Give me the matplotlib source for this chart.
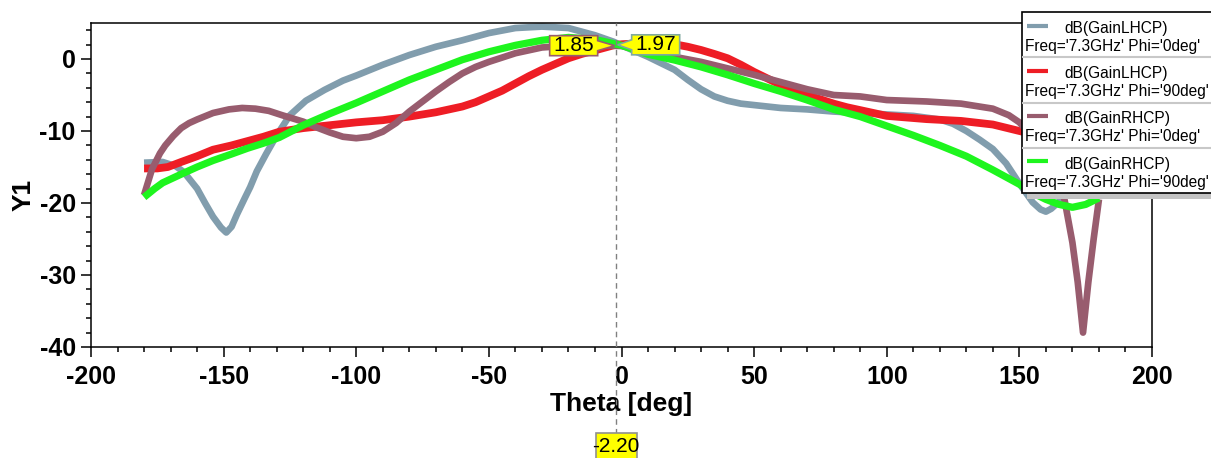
import matplotlib
matplotlib.use("Agg")
import matplotlib.pyplot as plt
from matplotlib.patches import Rectangle, Polygon
from matplotlib.lines import Line2D
from matplotlib.ticker import MultipleLocator
from matplotlib.transforms import IdentityTransform

plt.rcParams['font.family'] = ['Liberation Sans', 'DejaVu Sans']
plt.rcParams['axes.unicode_minus'] = False

# ---------------- data ----------------
gray_theta = [-180, -173, -168, -165, -160, -157, -154, -151, -149, -147, -145, -142, -140, -137.5, -134,
              -130, -125, -119, -112, -105, -100, -90, -80, -70, -60, -50, -40, -30, -20, -10, -3, 0,
              5, 10, 15, 20, 25, 30, 35, 40, 45, 50, 60, 70, 80, 90, 100, 110, 120, 125, 130, 135,
              140, 145, 150, 155, 158, 160, 162, 165, 170, 175, 180]
gray_db = [-14.4, -14.3, -14.9, -15.7, -18.0, -20.0, -21.9, -23.4, -24.1, -23.3, -21.6, -19.3, -17.8, -15.6, -13.2,
           -10.6, -7.8, -5.8, -4.3, -3.0, -2.3, -0.8, 0.55, 1.7, 2.6, 3.6, 4.3, 4.5, 4.3, 3.3, 2.4, 1.9,
           1.1, 0.3, -0.6, -1.5, -2.9, -4.2, -5.2, -5.8, -6.2, -6.4, -6.8, -7.0, -7.3, -7.5, -7.7, -7.9, -8.4, -9.0, -10.0, -11.2,
           -12.5, -14.5, -17.3, -19.9, -20.9, -21.2, -20.8, -19.8, -17.5, -16.0, -15.0]

red_theta = [-180, -175, -171, -166, -160, -154, -147, -141, -135, -129, -120, -110, -100, -90, -80, -70,
             -60, -55, -50, -45, -40, -35, -30, -25, -20, -15, -10, -3, 0, 5, 10, 15, 20, 25, 30, 35, 40,
             45, 50, 55, 60, 65, 70, 75, 80, 85, 90, 100, 115, 128, 140, 150, 160, 170, 180]
red_db = [-15.2, -15.2, -15.0, -14.3, -13.5, -12.6, -12.0, -11.4, -10.8, -10.1, -9.6, -9.2, -8.8, -8.5, -8.0, -7.4,
          -6.6, -6.0, -5.2, -4.4, -3.4, -2.4, -1.5, -0.7, 0.1, 0.7, 1.2, 1.9, 2.05, 2.15, 2.25, 2.2, 2.05, 1.7, 1.25, 0.7, 0.1,
          -0.8, -1.8, -2.7, -3.6, -4.4, -5.0, -5.6, -6.2, -6.7, -7.1, -7.9, -8.35, -8.6, -9.1, -10.0, -10.8, -11.5, -12.0]

purple_theta = [-180, -177, -174, -172, -169, -166, -163, -160, -154, -148, -143, -138, -133, -128, -120,
                -115, -110, -105, -100, -95, -90, -85, -80, -75, -70, -65, -60, -55, -50, -40, -30, -20,
                -10, 0, 10, 20, 30, 40, 50, 60, 70, 80, 90, 100, 115, 128, 140, 146, 150, 155, 160,
                164, 167, 170, 172, 174, 176, 178, 180]
purple_db = [-18.9, -15.3, -13.1, -12.0, -10.7, -9.6, -8.9, -8.4, -7.5, -7.0, -6.8, -6.9, -7.2, -7.8, -8.7,
             -9.5, -10.2, -10.8, -11.0, -10.8, -10.1, -8.9, -7.3, -5.9, -4.5, -3.2, -2.0, -1.1, -0.4, 0.8, 1.6, 1.85,
             1.95, 1.8, 1.0, 0.3, -0.4, -1.3, -2.2, -3.2, -4.2, -5.0, -5.2, -5.7, -5.9, -6.2, -6.9, -7.8, -8.8, -10.8, -13.5,
             -16.5, -19.5, -25.5, -31.0, -38.0, -31.0, -25.0, -19.5]

green_theta = [-180, -176, -173, -166, -160, -154, -147, -141, -135, -129, -120, -110, -100, -90, -80, -70,
               -60, -50, -40, -30, -20, -10, 0, 10, 20, 30, 40, 50, 60, 70, 80, 90, 100, 110, 120,
               130, 140, 150, 155, 160, 165, 170, 175, 180]
green_db = [-19.2, -18.0, -17.2, -16.0, -15.0, -14.1, -13.2, -12.4, -11.7, -10.9, -9.2, -7.6, -6.1, -4.5, -2.9, -1.5,
            -0.1, 1.0, 1.9, 2.6, 3.0, 2.7, 1.9, 0.65, -0.15, -1.1, -2.2, -3.4, -4.5, -5.7, -7.0, -8.0, -9.3, -10.6, -12.0,
            -13.5, -15.4, -17.4, -18.6, -19.5, -20.2, -20.6, -20.2, -19.3]

trace_names = ["dB(GainLHCP)", "dB(GainLHCP)", "dB(GainRHCP)", "dB(GainRHCP)"]
trace_conds = ["Freq='7.3GHz' Phi='0deg'", "Freq='7.3GHz' Phi='90deg'",
               "Freq='7.3GHz' Phi='0deg'", "Freq='7.3GHz' Phi='90deg'"]

marker_theta = -2.2
marker_values = [1.85, 1.97]
marker_labels = ["1.85", "1.97"]
marker_x_label = "-2.20"

x_label = "Theta [deg]"
y_label = "Y1"

# ---------------- style ----------------
C_GRAY = "#819DAD"
C_RED = "#EE1D25"
C_PURPLE = "#985C6E"
C_GREEN = "#1EF51E"
colors = [C_GRAY, C_RED, C_PURPLE, C_GREEN]

W, H = 1211, 458
fig = plt.figure(figsize=(W / 100, H / 100), dpi=100)
fig.patch.set_facecolor("white")
AX_L, AX_R, AX_T, AX_B = 91, 1152, 23, 347
ax = fig.add_axes([AX_L / W, 1 - AX_B / H, (AX_R - AX_L) / W, (AX_B - AX_T) / H])

kw = dict(solid_capstyle='butt', solid_joinstyle='round')
ax.plot(gray_theta, gray_db, color=C_GRAY, lw=4.8, zorder=2, **kw)
ax.plot(red_theta, red_db, color=C_RED, lw=5.6, zorder=3, **kw)
ax.plot(purple_theta, purple_db, color=C_PURPLE, lw=4.8, zorder=4, **kw)
ax.plot(green_theta, green_db, color=C_GREEN, lw=5.2, zorder=5, **kw)

ax.set_xlim(-200, 200)
ax.set_ylim(-40, 5)
ax.xaxis.set_major_locator(MultipleLocator(50))
ax.xaxis.set_minor_locator(MultipleLocator(10))
ax.yaxis.set_major_locator(MultipleLocator(10))
ax.yaxis.set_minor_locator(MultipleLocator(2))
ax.tick_params(which='major', direction='out', length=7, width=1.1, labelsize=18, pad=4)
ax.tick_params(which='minor', direction='out', length=3.5, width=1.1)
ax.tick_params(axis='x', which='major', pad=6)
for lab in ax.get_xticklabels() + ax.get_yticklabels():
    lab.set_fontweight('bold')
for sp in ax.spines.values():
    sp.set_linewidth(1.1)

ax.set_xlabel(x_label, fontsize=19, fontweight='bold')
ax.set_ylabel(y_label, fontsize=19, fontweight='bold')
ax.xaxis.set_label_coords(0.5, -0.14)
ax.yaxis.set_label_coords(-0.052, 0.47)

# dashed marker line (extends below axes to the x-marker label)
ax.axvline(marker_theta, ymin=-0.27, ymax=1, color="#808080", lw=1.0,
           ls=(0, (4, 3)), clip_on=False, zorder=6)

# ---------------- markers ----------------
ident = IdentityTransform()
fig.canvas.draw()


def add_marker(value, label, side, edge):
    mx, my = ax.transData.transform((marker_theta, value))
    if side == 'left':
        x0, x1 = mx - 66, mx - 18
        pts = [(x0, my + 10), (x1, my + 10), (x1, my + 5), (mx - 1, my), (x1, my - 5),
               (x1, my - 10), (x0, my - 10)]
    else:
        x0, x1 = mx + 16, mx + 64
        pts = [(x0, my + 10), (x1, my + 10), (x1, my - 10), (x0, my - 10), (x0, my - 5),
               (mx + 2, my), (x0, my + 5)]
    poly = Polygon(pts, closed=True, facecolor="#FFFF00", edgecolor=edge, lw=1.2,
                   transform=ident, zorder=10)
    fig.add_artist(poly)
    fig.text((x0 + x1) / 2, my, label, transform=ident, ha='center', va='center',
             fontsize=15, color='black', zorder=11)


add_marker(marker_values[0], marker_labels[0], 'left', C_PURPLE)
add_marker(marker_values[1], marker_labels[1], 'right', "#7FA8A0")

mx, _ = ax.transData.transform((marker_theta, 0))
fig.add_artist(Rectangle((mx - 20, H - 470), 41, 37, facecolor="#FFFF00", edgecolor="#909090",
                         lw=1.2, transform=ident, zorder=10))
fig.text(mx + 0.5, H - 446, marker_x_label, transform=ident, ha='center', va='center',
         fontsize=15, color='black', zorder=11)

# ---------------- legend (drawn in pixel coords) ----------------
LX0, LX1, LY0, LY1 = 1022, 1211, 12, 193
fig.add_artist(Rectangle((LX0 + 5, H - LY1 - 6), LX1 - LX0, LY1 - LY0, facecolor="#C4C4C4",
                         edgecolor='none', transform=ident, zorder=12))
fig.add_artist(Rectangle((LX0, H - LY1), LX1 - LX0 + 5, LY1 - LY0, facecolor="white",
                         edgecolor='black', lw=1.2, transform=ident, zorder=13))
entry_h = (LY1 - LY0) / 4
for i in range(4):
    top = LY0 + i * entry_h
    if i > 0:
        fig.add_artist(Line2D([LX0 + 1, LX1], [H - top, H - top], color="#C8C8C8", lw=1.5,
                              transform=ident, zorder=14))
    fig.add_artist(Line2D([1027, 1048], [H - (top + 13.5), H - (top + 13.5)], color=colors[i],
                          lw=3.0, solid_capstyle='butt', transform=ident, zorder=14))
    fig.text(1064, H - (top + 16.5), trace_names[i], transform=ident, ha='left', va='center',
             fontsize=11.2, color='black', zorder=15)
    fig.text(1025, H - (top + 34.5), trace_conds[i], transform=ident, ha='left', va='center',
             fontsize=11.2, color='black', zorder=15)

fig.savefig("out.png", dpi=100, facecolor="white")
